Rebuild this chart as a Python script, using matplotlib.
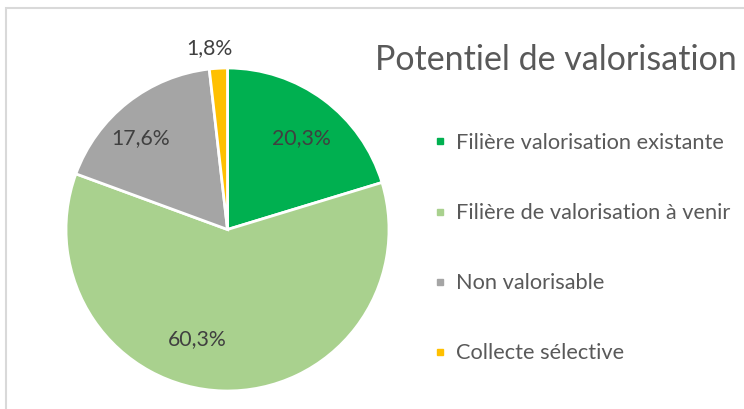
import matplotlib
matplotlib.use("Agg")
import matplotlib.pyplot as plt
from matplotlib.lines import Line2D
from matplotlib.patches import Rectangle

plt.rcParams['font.family'] = ['Lato', 'DejaVu Sans']

# data
categories = ['Filière valorisation existante', 'Filière de valorisation à venir',
              'Non valorisable', 'Collecte sélective']
values = [20.3, 60.3, 17.6, 1.8]
pct_labels = ['20,3%', '60,3%', '17,6%', '1,8%']
title = 'Potentiel de valorisation'

colors = ['#00B050', '#A9D18E', '#A5A5A5', '#FFC000']
# label positions in pie-radius units (Excel "best fit" placement)
label_pos = [(0.46, 0.565), (-0.186, -0.677), (-0.54, 0.565), (-0.112, 1.124)]

W, H = 744, 409
fig = plt.figure(figsize=(W / 100, H / 100), dpi=100)

# chart border (runs off the right and bottom edges)
fig.add_artist(Rectangle((6 / W, -0.1), 1.2, 0.1 + (H - 8) / H, transform=fig.transFigure,
                         fill=False, edgecolor='#D9D9D9', linewidth=1.5))

cx, cy, r = 227.5, 409 - 229.5, 161.5
ax = fig.add_axes([(cx - r) / W, (cy - r) / H, 2 * r / W, 2 * r / H])
ax.pie(values, colors=colors, startangle=90, counterclock=False, radius=1,
       wedgeprops=dict(edgecolor='white', linewidth=2))
ax.set_xlim(-1, 1)
ax.set_ylim(-1, 1)
ax.axis('off')

for (x, y), t in zip(label_pos, pct_labels):
    ax.text(x, y, t, ha='center', va='center', fontsize=15.3, color='#404040', clip_on=False)

fig.text(375 / W, 1 - 60 / H, title, ha='left', va='center', fontsize=24.5, color='#595959')

handles = [Line2D([], [], marker='s', linestyle='none', markersize=5,
                  markerfacecolor=c, markeredgecolor=c) for c in colors]
fig.legend(handles, categories, loc='upper left', bbox_to_anchor=(433.5 / W, 1 - 133 / H),
           frameon=False, fontsize=15.7, labelcolor='#595959', labelspacing=2.3,
           handlelength=0.6, handletextpad=0.45, borderpad=0, borderaxespad=0)

fig.savefig('out.png', dpi=100)
